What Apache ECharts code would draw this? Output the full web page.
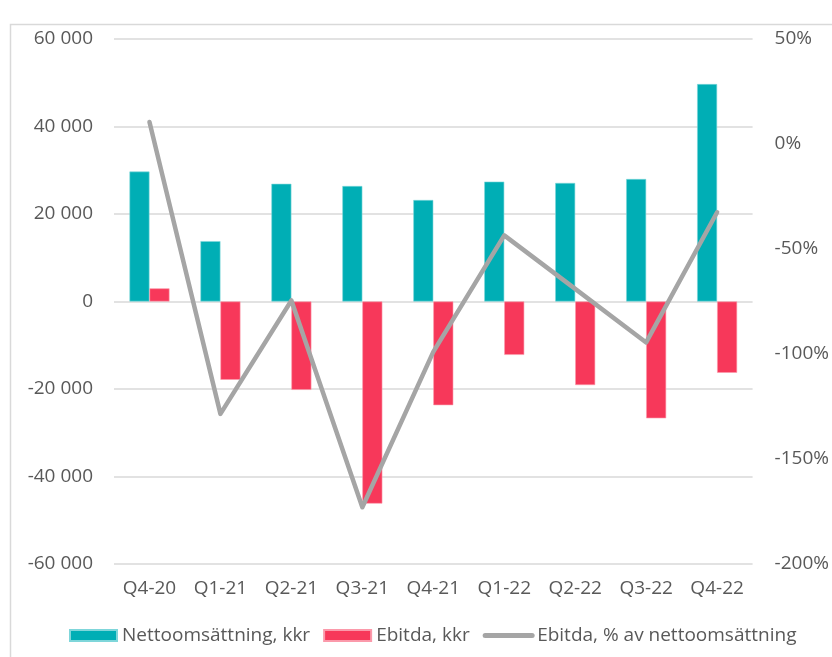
<!DOCTYPE html>
<html>
<head>
<meta charset="utf-8">
<script src="https://cdn.jsdelivr.net/npm/echarts@6/dist/echarts.min.js"></script>
<style>
  html, body { margin: 0; padding: 0; background: #fff; }
  #chart { width: 832px; height: 657px; }
</style>
</head>
<body>
<div id="chart"></div>
<script>
const quarters = ['Q4-20', 'Q1-21', 'Q2-21', 'Q3-21', 'Q4-21', 'Q1-22', 'Q2-22', 'Q3-22', 'Q4-22'];
const netSales = [29700, 13800, 26900, 26400, 23200, 27400, 27100, 28000, 49700];
const ebitda = [3000, -17900, -20200, -46200, -23700, -12200, -19100, -26700, -16300];
const ebitdaMargin = [10.5, -128.5, -74.5, -173, -99, -43.5, -69, -94.5, -32.5];

const font = "'Open Sans', sans-serif";
const textColor = '#595959';

function thousands(value) {
  const sign = value < 0 ? '-' : '';
  return sign + String(Math.abs(value)).replace(/\B(?=(\d{3})+(?!\d))/g, ' ');
}

const chart = echarts.init(document.getElementById('chart'), null, { renderer: 'canvas' });

chart.setOption({
  backgroundColor: '#fff',
  animation: false,
  textStyle: { fontFamily: font, color: textColor },
  graphic: [
    {
      type: 'rect',
      shape: { x: 10.5, y: 24.5, width: 840, height: 660 },
      style: { fill: 'none', stroke: '#d9d9d9', lineWidth: 1.5 },
      silent: true,
    },
  ],
  grid: { left: 114, right: 79, top: 39, bottom: 93 },
  legend: {
    top: 621,
    left: 64,
    itemWidth: 47,
    itemHeight: 11,
    itemGap: 13,
    textStyle: { fontFamily: font, color: textColor, fontSize: 19 },
    data: [
      { name: 'Nettoomsättning, kkr', icon: 'rect' },
      { name: 'Ebitda, kkr', icon: 'rect' },
      {
        name: 'Ebitda, % av nettoomsättning',
        itemStyle: { opacity: 0 },
        lineStyle: { color: '#a5a5a5', width: 5, cap: 'round' },
      },
    ],
  },
  xAxis: {
    type: 'category',
    data: quarters,
    axisLine: { show: false },
    axisTick: { show: false },
    axisLabel: { color: textColor, fontSize: 19, margin: 15, fontFamily: font },
  },
  yAxis: [
    {
      type: 'value',
      min: -60000,
      max: 60000,
      interval: 20000,
      axisLine: { show: false },
      axisTick: { show: false },
      axisLabel: { color: textColor, fontSize: 19, margin: 21, fontFamily: font, formatter: thousands },
      splitLine: { lineStyle: { color: '#d9d9d9', width: 1.5 } },
    },
    {
      type: 'value',
      min: -200,
      max: 50,
      interval: 50,
      position: 'right',
      axisLine: { show: false },
      axisTick: { show: false },
      axisLabel: { color: textColor, fontSize: 19, margin: 22, fontFamily: font, formatter: '{value}%' },
      splitLine: { show: false },
    },
  ],
  series: [
    {
      name: 'Nettoomsättning, kkr',
      type: 'bar',
      data: netSales,
      barWidth: 20,
      barGap: '0%',
      itemStyle: { color: '#00aeb5', borderColor: '#7fd6da', borderWidth: 0.6 },
    },
    {
      name: 'Ebitda, kkr',
      type: 'bar',
      data: ebitda,
      barWidth: 20,
      barGap: '0%',
      itemStyle: { color: '#f7385a', borderColor: '#fb9aab', borderWidth: 0.6 },
    },
    {
      name: 'Ebitda, % av nettoomsättning',
      type: 'line',
      yAxisIndex: 1,
      data: ebitdaMargin,
      showSymbol: false,
      symbol: 'none',
      lineStyle: { color: '#a5a5a5', width: 4.5, join: 'round', cap: 'round' },
      itemStyle: { color: '#a5a5a5' },
      z: 5,
    },
  ],
});
</script>
</body>
</html>
